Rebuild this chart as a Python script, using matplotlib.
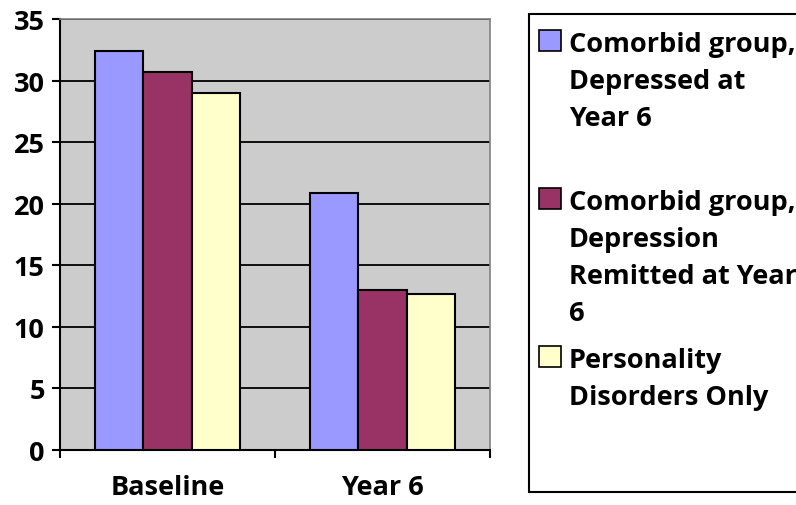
import matplotlib
matplotlib.use('Agg')
import matplotlib.pyplot as plt
from matplotlib.patches import Rectangle
import numpy as np

# data for the two time points
categories = ['Baseline', 'Year 6']
depressed_y6 = [32.4, 20.9]
remitted_y6 = [30.7, 13.0]
pd_only = [29.0, 12.7]

series = [depressed_y6, remitted_y6, pd_only]
colors = ['#9999FF', '#993366', '#FFFFCC']
legend_lines = [
    ['Comorbid group,', 'Depressed at', 'Year 6'],
    ['Comorbid group,', 'Depression', 'Remitted at Year', '6'],
    ['Personality', 'Disorders Only'],
]

plt.rcParams['font.family'] = ['Open Sans', 'DejaVu Sans']
plt.rcParams['font.weight'] = 'bold'
FS = 19.5

W, H = 796, 506
fig = plt.figure(figsize=(W / 100, H / 100), dpi=100)
ax = fig.add_axes([60 / W, (H - 451) / H, 430 / W, 431 / H])
ax.set_facecolor('#CCCCCC')

x = np.arange(len(categories))
width = 0.2233
for i, (vals, c) in enumerate(zip(series, colors)):
    ax.bar(x + (i - 1) * width, vals, width, color=c, edgecolor='black',
           linewidth=1.5, zorder=3)

ax.set_xlim(-0.5, 1.5)
ax.set_ylim(0, 35)
ax.set_yticks(range(0, 36, 5))
ax.yaxis.grid(True, color='black', linewidth=1.3, zorder=1)
ax.set_axisbelow(True)

ax.set_xticks(x)
ax.set_xticklabels(categories, fontsize=FS, fontweight='bold')
ax.set_xticks([-0.5, 0.5, 1.5], minor=True)
ax.tick_params(axis='x', which='major', length=0, pad=17)
ax.tick_params(axis='x', which='minor', length=6, width=1.5, direction='out')
ax.tick_params(axis='y', length=6, width=1.5, pad=5, labelsize=FS)
for lab in ax.get_yticklabels():
    lab.set_fontweight('bold')

for s in ['left', 'bottom']:
    ax.spines[s].set_linewidth(1.5)
    ax.spines[s].set_color('black')
for s in ['top', 'right']:
    ax.spines[s].set_linewidth(1.2)
    ax.spines[s].set_color('#808080')

# legend box drawn in figure pixels
def fx(px):
    return px / W

def fy(py):
    return 1 - py / H

fig.patches.append(Rectangle((fx(529), fy(493)), fx(300), (493 - 15) / H,
                             transform=fig.transFigure, facecolor='white',
                             edgecolor='black', linewidth=1.5))
entry_tops = [31, 189, 347]
line_step = 37
for top, lines, c in zip(entry_tops, legend_lines, colors):
    fig.patches.append(Rectangle((fx(539), fy(top + 21)), 22 / W, 21 / H,
                                 transform=fig.transFigure, facecolor=c,
                                 edgecolor='black', linewidth=1.2))
    for k, line in enumerate(lines):
        fig.text(fx(569), fy(top + 21 + k * line_step), line, fontsize=FS,
                 fontweight='bold', va='baseline', ha='left')

fig.savefig('out.png', dpi=100)
